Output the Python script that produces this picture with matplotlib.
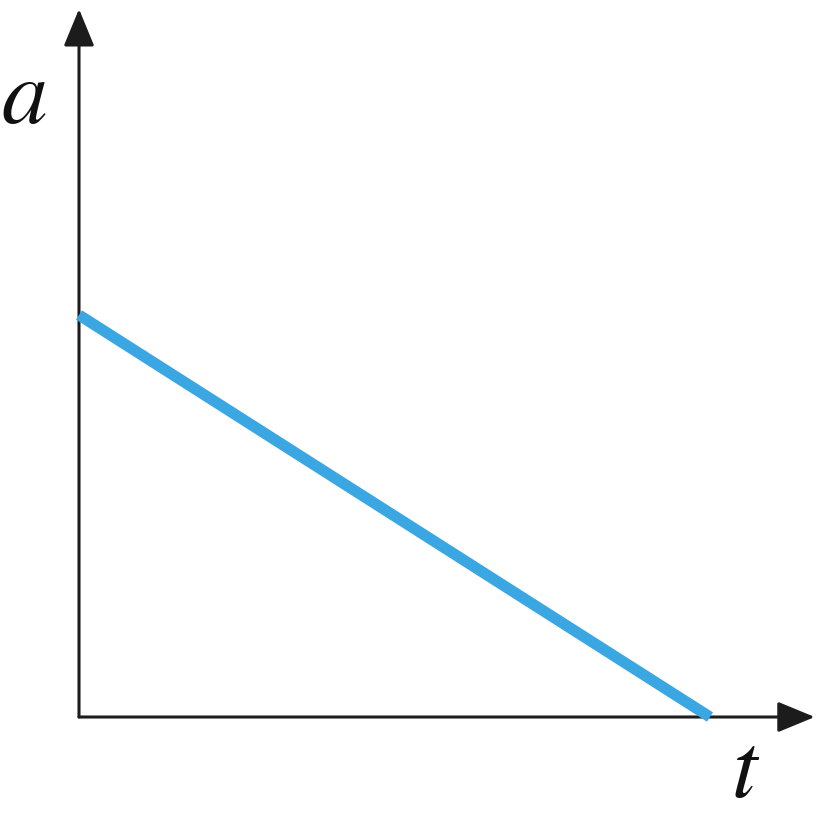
import numpy as np
import matplotlib.pyplot as plt

plt.rcParams['mathtext.fontset'] = 'stix'

# acceleration falls linearly to zero
t = [0.0, 1.0]
a = [1.0, 0.0]

fig = plt.figure(figsize=(8.36, 8.2), dpi=100)
ax = fig.add_axes([0, 0, 1, 1])
ax.set_xlim(-0.1252, 1.1997)
ax.set_ylim(-0.2537, 1.786)
ax.axis('off')

axis_col = '#1c1c1c'
arrow = dict(arrowstyle='-|>,head_length=2.3,head_width=0.95', mutation_scale=10,
             lw=2.2, color=axis_col, shrinkA=0, shrinkB=0)
ax.annotate('', xy=(0, 1.761), xytext=(0, 0), arrowprops=arrow)
ax.annotate('', xy=(1.166, 0), xytext=(0, 0), arrowprops=arrow)

ax.plot(t, a, color='#3ba7e2', lw=8, solid_capstyle='butt', zorder=3)

fig.text(0.028, 0.85, '$a$', fontsize=66, ha='center', va='baseline', color='#111111')
fig.text(0.892, 0.028, '$t$', fontsize=66, ha='center', va='baseline', color='#111111')

fig.savefig('out.png', dpi=100)
